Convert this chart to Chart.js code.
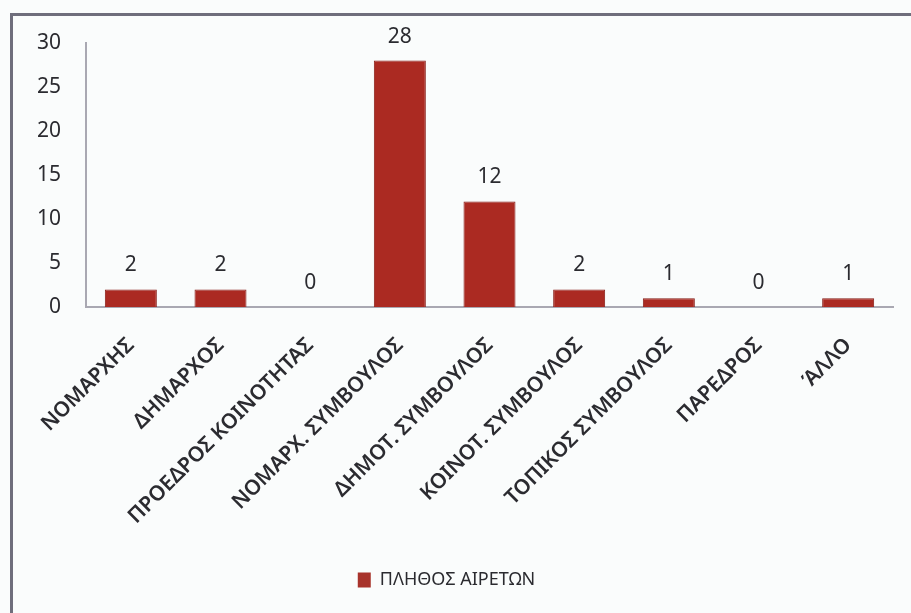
<!DOCTYPE html>
<html>
<head>
<meta charset="utf-8">
<script src="https://cdn.jsdelivr.net/npm/chart.js@4.4.1/dist/chart.umd.min.js"></script>
<style>
  html, body { margin: 0; padding: 0; background: #fafcfc; }
  #wrap { position: relative; width: 911px; height: 613px; overflow: hidden; }
  #frame {
    position: absolute; left: 10px; top: 13px; right: -5px; bottom: -5px;
    border-left: 3px solid #6f6e7c; border-top: 3px solid #6f6e7c;
    pointer-events: none;
  }
  canvas { position: absolute; left: 0; top: 0; }
</style>
</head>
<body>
<div id="wrap">
  <canvas id="myChart" width="911" height="613"></canvas>
  <div id="frame"></div>
</div>
<script>
// Θέσεις / κατηγορίες
const categories = ['ΝΟΜΑΡΧΗΣ', 'ΔΗΜΑΡΧΟΣ', 'ΠΡΟΕΔΡΟΣ ΚΟΙΝΟΤΗΤΑΣ', 'ΝΟΜΑΡΧ. ΣΥΜΒΟΥΛΟΣ',
  'ΔΗΜΟΤ. ΣΥΜΒΟΥΛΟΣ', 'ΚΟΙΝΟΤ. ΣΥΜΒΟΥΛΟΣ', 'ΤΟΠΙΚΟΣ ΣΥΜΒΟΥΛΟΣ', 'ΠΑΡΕΔΡΟΣ', 'ΆΛΛΟ'];
// Πλήθος αιρετών
const counts = [2, 2, 0, 28, 12, 2, 1, 0, 1];
const seriesName = 'ΠΛΗΘΟΣ ΑΙΡΕΤΩΝ';
const yTicks = [0, 5, 10, 15, 20, 25, 30];

const textColor = '#2b2b30';
const fontFamily = "'Noto Sans', 'Open Sans', sans-serif";

// τιμές πάνω από κάθε στήλη
const valueLabels = {
  id: 'valueLabels',
  afterDatasetsDraw(chart) {
    const ctx = chart.ctx;
    const meta = chart.getDatasetMeta(0);
    ctx.save();
    ctx.fillStyle = textColor;
    ctx.font = '21px ' + fontFamily;
    ctx.textAlign = 'center';
    ctx.textBaseline = 'middle';
    meta.data.forEach((bar, i) => {
      ctx.fillText(String(counts[i]), bar.x, bar.y - 24);
    });
    ctx.restore();
  }
};

// λίγη σκίαση στα άκρα της στήλης
function barFill(context) {
  const bar = context.element;
  if (!bar || !bar.width) return '#ab2a22';
  const g = context.chart.ctx.createLinearGradient(bar.x - bar.width / 2, 0, bar.x + bar.width / 2, 0);
  g.addColorStop(0, '#8e1e18');
  g.addColorStop(0.12, '#ad2b23');
  g.addColorStop(0.88, '#ad2b23');
  g.addColorStop(1, '#8e1e18');
  return g;
}

const ctx = document.getElementById('myChart').getContext('2d');
const myChart = new Chart(ctx, {
  type: 'bar',
  data: {
    labels: categories,
    datasets: [{
      label: seriesName,
      data: counts,
      backgroundColor: barFill,
      borderColor: '#861b15',
      borderWidth: 1,
      categoryPercentage: 0.58,
      barPercentage: 1
    }]
  },
  options: {
    responsive: false,
    animation: false,
    layout: { padding: { top: 43, right: 18, bottom: 14, left: 0 } },
    plugins: {
      legend: {
        position: 'bottom',
        labels: {
          color: textColor,
          font: { family: fontFamily, size: 18 },
          boxWidth: 13,
          boxHeight: 15,
          padding: 10,
          generateLabels(chart) {
            return [{ text: seriesName, fillStyle: '#a8332b', strokeStyle: '#a8332b', lineWidth: 0, fontColor: textColor, datasetIndex: 0 }];
          }
        }
      },
      tooltip: { enabled: false }
    },
    scales: {
      x: {
        grid: { display: false, drawTicks: false },
        border: { display: true, color: '#a9a8b2', width: 2 },
        ticks: {
          color: textColor,
          font: { family: fontFamily, size: 21, weight: '600' },
          minRotation: 45,
          maxRotation: 45,
          padding: 26,
          autoSkip: false
        },
        afterFit(scale) { scale.height = 254; }
      },
      y: {
        min: 0,
        max: 30,
        afterBuildTicks(scale) { scale.ticks = yTicks.map(v => ({ value: v })); },
        grid: { display: false, drawTicks: false },
        border: { display: true, color: '#a9a8b2', width: 2 },
        ticks: {
          color: textColor,
          font: { family: fontFamily, size: 21 },
          padding: 25
        },
        afterFit(scale) { scale.width = 86; }
      }
    }
  },
  plugins: [valueLabels]
});
</script>
</body>
</html>
